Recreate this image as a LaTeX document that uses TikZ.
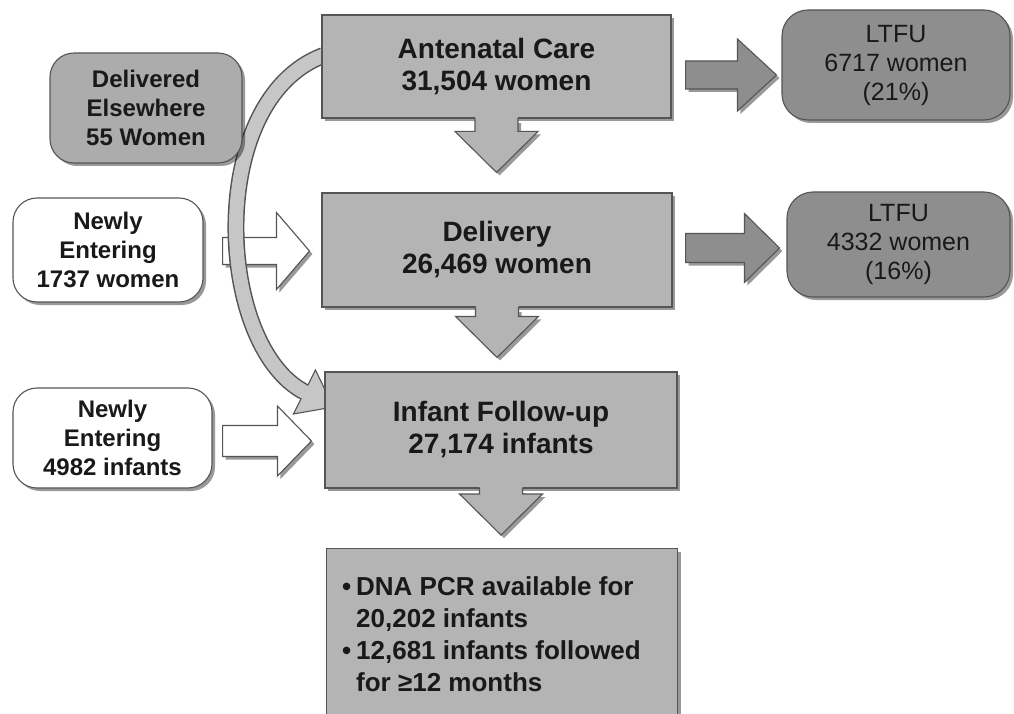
\documentclass[tikz,border=0pt]{standalone}
\usepackage{fontspec}
\setmainfont{Liberation Sans}
\usetikzlibrary{calc,shadows}
\definecolor{mainc}{RGB}{180,180,180}
\definecolor{elsec}{RGB}{172,172,172}
\definecolor{ltfuc}{RGB}{142,142,142}
\definecolor{edgec}{RGB}{85,85,85}
\definecolor{bandc}{RGB}{198,198,198}
\definecolor{txtc}{RGB}{25,25,25}
\pgfdeclarelayer{bg}
\pgfdeclarelayer{back}
\pgfsetlayers{bg,back,main}

% vertical block arrow: from node, to node, gap before target, fill style
\newcommand\varrow[4]{%
  \path (#1.south) coordinate (vS) ($(#2.north)+(0,-#3)$) coordinate (vE);
  \path (vS |- vE) coordinate (vT);
  \path ($(vT)+(0,-41)$) coordinate (vH);
  \fill[black,opacity=.4,transform canvas={shift={(3pt,-3pt)}}]
    ($(vS)+(-21.5,1.5)$) -- ($(vH)+(-21.5,0)$) -- ($(vH)+(-41.5,0)$) -- (vT)
    -- ($(vH)+(41.5,0)$) -- ($(vH)+(21.5,0)$) -- ($(vS)+(21.5,1.5)$) -- cycle;
  \fill[#4]
    ($(vS)+(-21.5,-1.5)$) -- ($(vH)+(-21.5,0)$) -- ($(vH)+(-41.5,0)$) -- (vT)
    -- ($(vH)+(41.5,0)$) -- ($(vH)+(21.5,0)$) -- ($(vS)+(21.5,-1.5)$) -- cycle;
  \draw[draw=edgec,line width=1.1pt,line join=miter]
    ($(vS)+(-21.5,-0.6)$) -- ($(vH)+(-21.5,0)$) -- ($(vH)+(-41.5,0)$) -- (vT)
    -- ($(vH)+(41.5,0)$) -- ($(vH)+(21.5,0)$) -- ($(vS)+(21.5,-0.6)$);
}
% horizontal block arrow: from, to, gap from, gap to, dy, shaft half, head half, head length, style
\newcommand\harrow[9]{%
  \path ($(#1.east)+(#3,#5)$) coordinate (hS) ($(#2.west)+(-#4,0)$) coordinate (hE);
  \path (hS -| hE) coordinate (hT);
  \path ($(hT)+(-#8,0)$) coordinate (hH);
  \fill[black,opacity=.4,transform canvas={shift={(3pt,-3pt)}}]
    ($(hS)+(0,-#6)$) -- ($(hH)+(0,-#6)$) -- ($(hH)+(0,-#7)$) -- (hT)
    -- ($(hH)+(0,#7)$) -- ($(hH)+(0,#6)$) -- ($(hS)+(0,#6)$) -- cycle;
  \filldraw[#9]
    ($(hS)+(0,-#6)$) -- ($(hH)+(0,-#6)$) -- ($(hH)+(0,-#7)$) -- (hT)
    -- ($(hH)+(0,#7)$) -- ($(hH)+(0,#6)$) -- ($(hS)+(0,#6)$) -- cycle;
}

\begin{document}
\begin{tikzpicture}[x=1pt,y=-1pt,
  box/.style={draw=edgec, line width=1.1pt, text=txtc, align=center, inner sep=0pt,
    drop shadow={shadow xshift=3pt,shadow yshift=-3pt,fill=black,opacity=.4}},
  mainbox/.style={box, fill=mainc, font=\fontsize{28}{32}\selectfont\bfseries},
  sidebox/.style={box, rounded corners=24pt, font=\fontsize{24}{29}\selectfont\bfseries},
  ltfubox/.style={box, rounded corners=26pt, fill=ltfuc, font=\fontsize{25}{29}\selectfont},
  darkarrow/.style={fill=ltfuc, draw=edgec, line width=1.1pt, line join=miter},
  whitearrow/.style={fill=white, draw=edgec, line width=1.1pt, line join=miter},
]
\useasboundingbox (0,0) rectangle (1014,714);
\begin{pgfonlayer}{bg}
  \fill[white] (0,0) rectangle (1014,714);
\end{pgfonlayer}

% main column
\node[mainbox, minimum width=349pt, minimum height=103pt] (ante) at (496.5,66.5) {Antenatal Care\\31,504 women};
\node[mainbox, minimum width=350pt, minimum height=114pt] (deliv) at (497,250) {Delivery\\26,469 women};
\node[mainbox, minimum width=352pt, minimum height=116pt] (infant) at (501,430) {Infant Follow-up\\27,174 infants};
\node[mainbox, minimum width=351pt, minimum height=190pt, anchor=north west] (pcr) at (326,548) {};
\node[anchor=north west, align=left, inner sep=0pt, text=txtc,
  font=\fontsize{26}{32}\selectfont\bfseries] (pcrtext) at ($(pcr.north west)+(16,28)$)
  {\makebox[14pt][l]{•}DNA PCR available for\\
   \hspace*{14pt}20,202 infants\\
   \makebox[14pt][l]{•}12,681 infants followed\\
   \hspace*{14pt}for ≥12 months};

% side boxes
\node[sidebox, fill=elsec, minimum width=192pt, minimum height=110pt] (else) at (146,108) {Delivered\\Elsewhere\\55 Women};
\node[sidebox, fill=white, minimum width=190pt, minimum height=104pt] (new1) at (108,250) {Newly\\Entering\\1737 women};
\node[sidebox, fill=white, minimum width=199pt, minimum height=100pt] (new2) at (112.5,438) {Newly\\Entering\\4982 infants};
\node[ltfubox, minimum width=228pt, minimum height=110pt] (ltfu1) at (896,65) {LTFU\\6717 women\\(21\%)};
\node[ltfubox, minimum width=223pt, minimum height=105pt] (ltfu2) at (898.5,244.5) {LTFU\\4332 women\\(16\%)};

% back layer: white arrow under the curved band, then the curved band
\begin{pgfonlayer}{back}
  \harrow{new1}{deliv}{19}{12}{1}{13.5}{38.5}{33}{whitearrow}
  \path ($(ante.west)+(2,-11)$) coordinate (cS) ($(infant.west)+(-20,-38)$) coordinate (cM);
  \draw[edgec, line width=17pt] (cS) .. controls (205,100) and (215,345) .. (cM);
  \filldraw[fill=bandc, draw=edgec, line width=1.1pt, line join=miter]
    ($(cM)+(11,-22)$) -- ($(cM)+(29,15)$) -- ($(cM)+(-11,22)$) -- cycle;
  \draw[bandc, line width=14pt] (cS) .. controls (205,100) and (215,345) .. (cM) -- ($(cM)+(2.7,1.4)$);
\end{pgfonlayer}

% down arrows
\varrow{ante}{deliv}{20}{mainc}
\varrow{deliv}{infant}{14}{mainc}
\varrow{infant}{pcr}{13}{mainc}

% side arrows
\harrow{new2}{infant}{10}{13}{3}{15.5}{35}{34}{whitearrow}
\harrow{ante}{ltfu1}{14}{5}{8.5}{14}{36}{39}{darkarrow}
\harrow{deliv}{ltfu2}{13}{7}{-2}{14.5}{34.5}{35}{darkarrow}
\end{tikzpicture}
\end{document}
